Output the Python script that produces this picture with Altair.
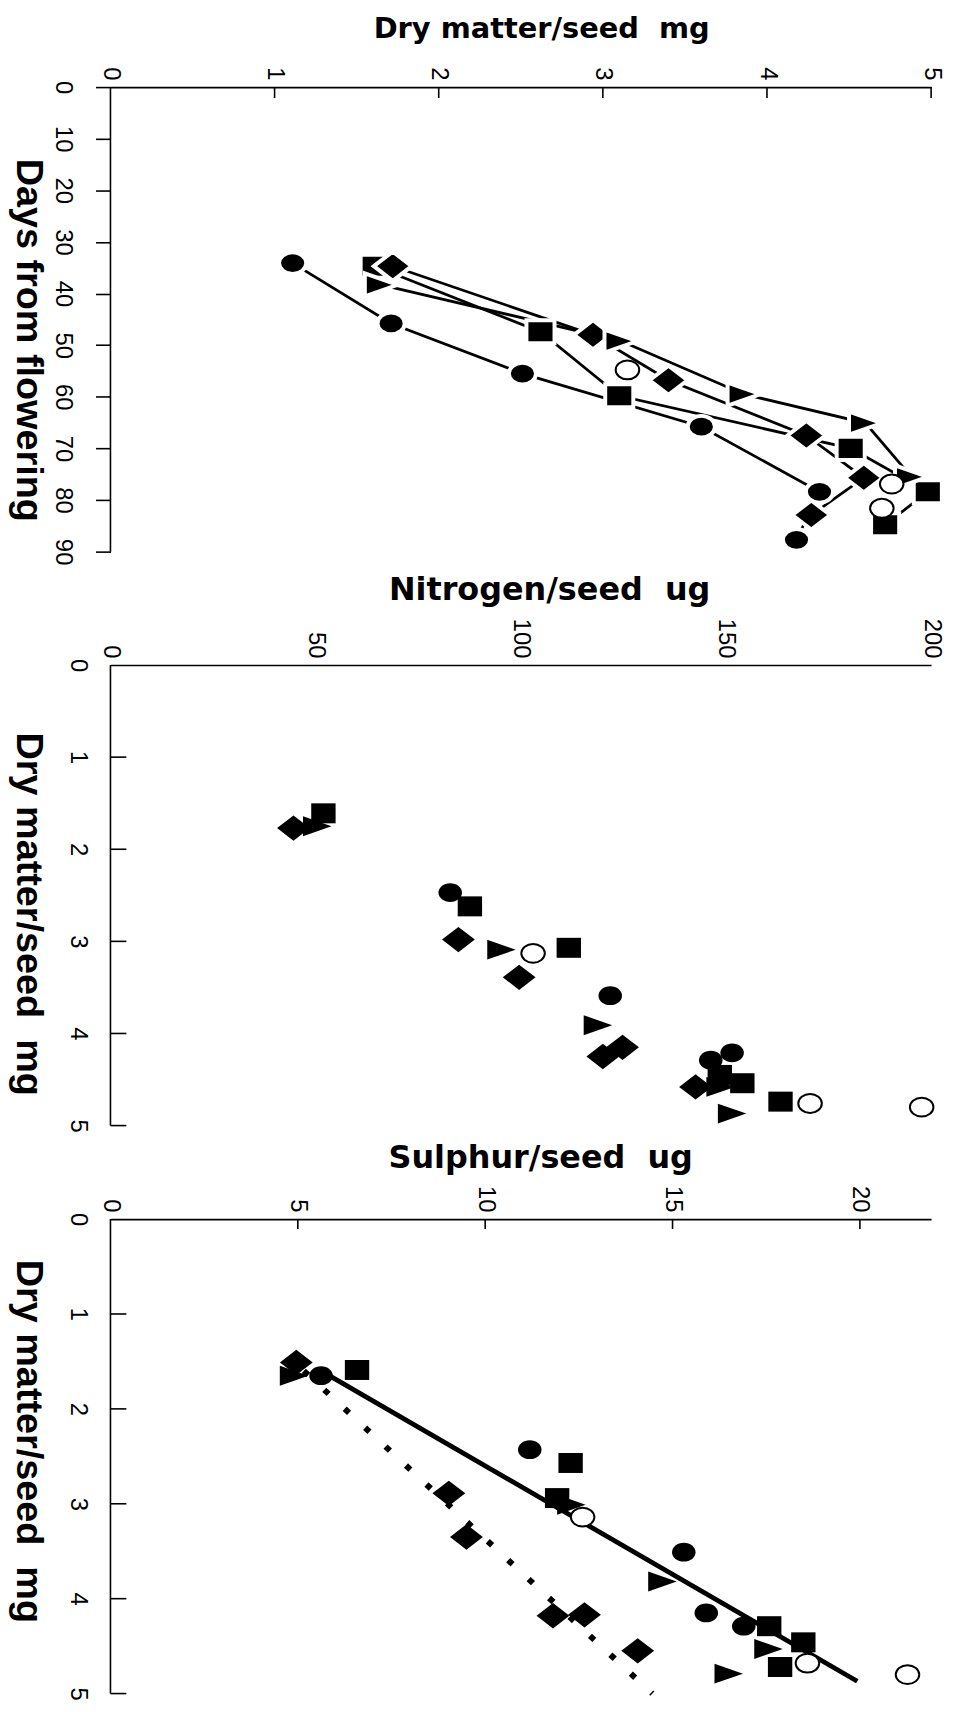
import altair as alt
import pandas as pd

# ---------------- Panel 1: dry matter per seed (mg) vs days from flowering
p1_circle_days = [34.1, 45.8, 55.5, 65.8, 78.4, 87.7]
p1_circle_dm = [1.11, 1.71, 2.51, 3.60, 4.32, 4.18]
p1_square_days = [34.7, 47.4, 59.8, 70.0, 78.4, 84.8]
p1_square_dm = [1.61, 2.62, 3.10, 4.51, 4.98, 4.72]
p1_diamond_days = [34.7, 48.0, 56.8, 67.5, 75.7, 82.9]
p1_diamond_dm = [1.72, 2.94, 3.40, 4.24, 4.59, 4.27]
p1_triangle_days = [38.3, 49.2, 59.5, 65.1, 75.5]
p1_triangle_dm = [1.65, 3.11, 3.86, 4.60, 4.88]
p1_open_days = [54.8, 76.9, 81.6]
p1_open_dm = [3.15, 4.76, 4.70]

# ---------------- Panel 2: nitrogen per seed (ug) vs dry matter per seed (mg)
p2_circle_n = [82.8, 121.8, 151.5, 146.3]
p2_circle_dm = [2.47, 3.59, 4.21, 4.29]
p2_square_n = [51.9, 87.6, 111.7, 148.5, 154.0, 163.3]
p2_square_dm = [1.61, 2.62, 3.07, 4.45, 4.54, 4.74]
p2_diamond_n = [44.6, 84.8, 99.6, 124.8, 120.0, 142.6]
p2_diamond_dm = [1.77, 2.98, 3.39, 4.15, 4.25, 4.58]
p2_triangle_n = [50.4, 95.3, 118.8, 148.7, 151.5]
p2_triangle_dm = [1.75, 3.09, 3.91, 4.58, 4.87]
p2_open_n = [103.0, 170.5, 197.7]
p2_open_dm = [3.13, 4.76, 4.80]

# ---------------- Panel 3: sulphur per seed (ug) vs dry matter per seed (mg)
p3_circle_s = [5.62, 11.19, 15.3, 15.9, 16.9]
p3_circle_dm = [1.65, 2.43, 3.51, 4.15, 4.29]
p3_square_s = [6.58, 12.28, 11.92, 17.58, 18.49, 17.87]
p3_square_dm = [1.59, 2.57, 2.94, 4.29, 4.46, 4.72]
p3_diamond_s = [4.96, 9.03, 9.5, 11.81, 12.65, 14.07]
p3_diamond_dm = [1.51, 2.89, 3.35, 4.18, 4.17, 4.55]
p3_triangle_s = [4.9, 12.3, 14.73, 17.56, 16.5]
p3_triangle_dm = [1.65, 3.01, 3.82, 4.53, 4.79]
p3_open_s = [12.6, 18.6, 21.27]
p3_open_dm = [3.14, 4.68, 4.80]
p3_solid_s = [5.84, 19.93]
p3_solid_dm = [1.65, 4.87]
p3_dotted_s = [5.16, 14.46]
p3_dotted_dm = [1.60, 5.00]

# axis tick values
p1_x_ticks = [0, 1, 2, 3, 4, 5]
p1_y_ticks = [0, 10, 20, 30, 40, 50, 60, 70, 80, 90]
p2_x_ticks = [0, 50, 100, 150, 200]
p3_x_ticks = [0, 5, 10, 15, 20]
dm_ticks = [0, 1, 2, 3, 4, 5]

# marker outlines (slightly wider than tall, as in the scanned figure)
ELLIPSE = "M-1,0A1,0.8,0,1,1,1,0A1,0.8,0,1,1,-1,0Z"
RECT = "M-1,-0.82L1,-0.82L1,0.82L-1,0.82Z"
DIAMOND = "M-1,0L0,-0.77L1,0L0,0.77Z"
TRIANGLE = "M-1,-0.7L1,0L-1,0.7Z"
SIZES = {ELLIPSE: 560, RECT: 600, DIAMOND: 1090, TRIANGLE: 820}

W = 825
LABEL_FONT = "Liberation Sans"


def df(xs, ys, name):
    return pd.DataFrame({"x": xs, "y": ys, "s": [name] * len(xs)})


def make_panel(series, xdom, xticks, ydom, yticks, yline, xtitle, xtitle_x, xtitle_y,
               xtitle_size, ytitle, ytitle_y, height, top_ticks, top_len, left_outward,
               lines=None, dotted=None, halo=False, line_series=None):
    xs = alt.Scale(domain=xdom, nice=False, zero=False)
    ys = alt.Scale(domain=ydom, nice=False, zero=False, reverse=True)
    xaxis = alt.Axis(
        orient="top", values=xticks, title=xtitle, titleFont="DejaVu Sans",
        titleFontWeight="bold", titleFontSize=xtitle_size, titleColor="black",
        titleAngle=0, titleAlign="center", titleBaseline="alphabetic",
        titleX=xtitle_x, titleY=xtitle_y,
        labelAngle=90, labelAlign="right", labelBaseline="middle",
        labelFont=LABEL_FONT, labelFontSize=24, labelColor="black",
        labelPadding=7, labelFlush=False, labelOverlap=False,
        ticks=False, tickSize=0, domainColor="black", domainWidth=1.6,
        grid=False)
    yaxis = alt.Axis(
        orient="left", values=yticks, title=ytitle, titleFont=LABEL_FONT,
        titleFontWeight="bold", titleFontSize=38, titleColor="black",
        titleAngle=90, titleAlign="center", titleBaseline="alphabetic",
        titleX=-94, titleY=ytitle_y,
        labelAngle=90, labelAlign="center", labelBaseline="top",
        labelFont=LABEL_FONT, labelFontSize=24, labelColor="black",
        labelPadding=21, labelFlush=False, labelOverlap=False,
        ticks=left_outward, tickSize=15 if left_outward else 0,
        tickColor="black", tickWidth=1.6,
        domain=False, grid=False)

    X = lambda: alt.X("x:Q", scale=xs, axis=xaxis)
    Y = lambda: alt.Y("y:Q", scale=ys, axis=yaxis)

    layers = []
    adf = pd.DataFrame({"y": [yline[0]], "y2": [yline[1]]})
    layers.append(alt.Chart(adf).mark_rule(color="black", strokeWidth=1.6).encode(
        y=Y(), y2="y2:Q", x=alt.value(0)))

    if line_series is not None:
        ldf = pd.concat([series[k][0] for k in line_series], ignore_index=True)
        layers.append(alt.Chart(ldf).mark_line(color="black", strokeWidth=2.8).encode(
            x=X(), y=Y(), detail="s:N", order=alt.Order("y:Q")))
    if dotted is not None:
        layers.append(alt.Chart(dotted).mark_line(
            color="black", strokeWidth=6, strokeDash=[6, 22], strokeCap="butt").encode(
            x=X(), y=Y()))
    if lines is not None:
        layers.append(alt.Chart(lines).mark_line(color="black", strokeWidth=4.8).encode(
            x=X(), y=Y()))

    for key, (d, shape) in series.items():
        if key == "open":
            mk = alt.Chart(d).mark_point(shape=ELLIPSE, filled=True, fill="white",
                                         stroke="black", strokeWidth=2, size=560,
                                         opacity=1)
        else:
            sz = SIZES[shape]
            if halo:
                mk = alt.Chart(d).mark_point(shape=shape, filled=True, fill="black",
                                             stroke="white", strokeWidth=4,
                                             size=sz * 1.33, opacity=1)
            else:
                mk = alt.Chart(d).mark_point(shape=shape, filled=True, fill="black",
                                             strokeWidth=0, size=sz, opacity=1)
        layers.append(mk.encode(x=X(), y=Y()))

    if top_ticks:
        tdf = pd.DataFrame({"x": top_ticks})
        layers.append(alt.Chart(tdf).mark_rule(color="black", strokeWidth=1.6).encode(
            x=X(), y=alt.value(0), y2=alt.value(top_len)))
    if not left_outward:
        ldf2 = pd.DataFrame({"y": [v for v in yticks if v != 0]})
        layers.append(alt.Chart(ldf2).mark_rule(color="black", strokeWidth=1.6).encode(
            y=Y(), x=alt.value(0), x2=alt.value(16)))

    return alt.layer(*layers).properties(width=W, height=height)


def series_set(cx, cy, sx, sy, dx, dy, tx, ty, ox, oy):
    return {
        "circle": (df(cx, cy, "circle"), ELLIPSE),
        "square": (df(sx, sy, "square"), RECT),
        "diamond": (df(dx, dy, "diamond"), DIAMOND),
        "triangle": (df(tx, ty, "triangle"), TRIANGLE),
        "open": (df(ox, oy, "open"), ELLIPSE),
    }


s1 = series_set(p1_circle_dm, p1_circle_days, p1_square_dm, p1_square_days,
                p1_diamond_dm, p1_diamond_days, p1_triangle_dm, p1_triangle_days,
                p1_open_dm, p1_open_days)
panel1 = make_panel(s1, [0, 5], p1_x_ticks, [0, 90 + 20 / (467 / 90)], p1_y_ticks, [0, 90],
                    "Dry matter/seed\u00a0 mg", 433, -50, 29,
                    "Days from flowering", 254, 487,
                    [1, 2, 3, 4, 5], 11, True, halo=True,
                    line_series=["circle", "square", "diamond", "triangle"])

s2 = series_set(p2_circle_n, p2_circle_dm, p2_square_n, p2_square_dm,
                p2_diamond_n, p2_diamond_dm, p2_triangle_n, p2_triangle_dm,
                p2_open_n, p2_open_dm)
panel2 = make_panel(s2, [0, 200], p2_x_ticks, [0, 5], dm_ticks, [0, 5],
                    "Nitrogen/seed\u00a0 ug", 441, -66, 32,
                    "Dry matter/seed\u00a0 mg", 250, 463,
                    None, 0, False)

s3 = series_set(p3_circle_s, p3_circle_dm, p3_square_s, p3_square_dm,
                p3_diamond_s, p3_diamond_dm, p3_triangle_s, p3_triangle_dm,
                p3_open_s, p3_open_dm)
solid = df(p3_solid_s, p3_solid_dm, "fit")
dotted = df(p3_dotted_s, p3_dotted_dm, "fit2")
panel3 = make_panel(s3, [0, 21.9], p3_x_ticks, [0, 5], dm_ticks, [0, 5],
                    "Sulphur/seed\u00a0 ug", 432, -52, 32,
                    "Dry matter/seed\u00a0 mg", 223, 477,
                    [5, 10, 15, 20], 10, False, lines=solid, dotted=dotted)

chart = alt.vconcat(panel1, panel2, panel3, spacing=94, bounds="flush").properties(
    padding={"left": 0, "top": 2, "right": 0, "bottom": 0},
    background="white",
).configure_view(stroke=None)

chart.save("out.html", embed_options={"renderer": "svg", "actions": False})
